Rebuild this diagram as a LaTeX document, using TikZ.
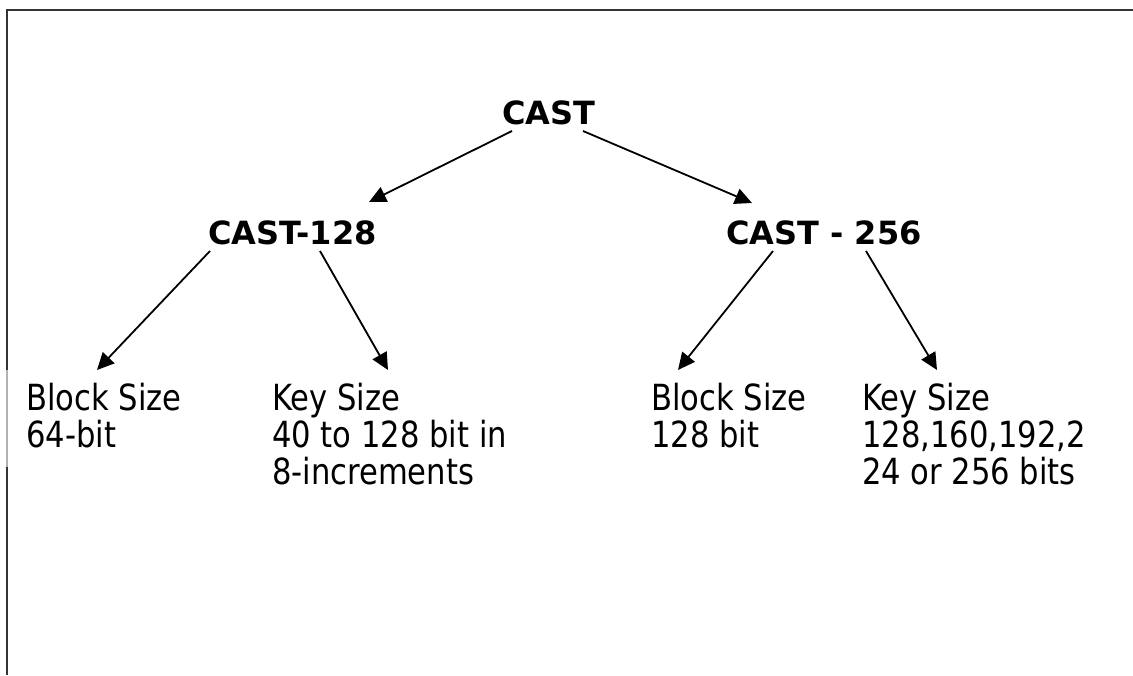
\documentclass[tikz,border=0pt]{standalone}
\usepackage{fontspec}
\newfontfamily\regfont[FakeStretch=0.85]{DejaVu Sans}
\newfontfamily\boldfont{DejaVu Sans}
\usetikzlibrary{arrows.meta,calc}
\begin{document}
\begin{tikzpicture}[x=1pt,y=-1pt,
  title/.style={anchor=base west,inner sep=0pt,font=\boldfont\bfseries\fontsize{32}{36}\selectfont},
  leaf/.style={anchor=north west,inner sep=0pt,align=left,font=\regfont\fontsize{36}{37}\selectfont},
  arr/.style={line width=1.8pt,-{Triangle[length=17pt,width=16pt]}},
  frame/.style={line width=2.2pt,draw=black!80}]
\useasboundingbox (0,0) rectangle (1133,675);
\draw[frame] (1133,10) -- (7,10) -- (7,370);
\draw[line width=2pt,draw=black!30] (7,370) -- (7,467);
\draw[frame] (7,467) -- (7,675);

\node[title] (cast) at (502,124) {CAST};
\node[title] (c128) at (208,244) {CAST-128};
\node[title] (c256) at (726,244) {CAST - 256};

\node[leaf] (blockL) at (26,383) {Block Size\\64-bit};
\node[leaf] (keyL) at (272,383) {Key Size\\40 to 128 bit in\\8-increments};
\node[leaf] (blockR) at (651,383) {Block Size\\128 bit};
\node[leaf] (keyR) at (862,383) {Key Size\\128,160,192,2\\24 or 256 bits};

\draw[arr] ($(cast.base west)+(10,7)$) -- ($(c128.base west)+(161,-42)$);
\draw[arr] ($(cast.base west)+(81,7)$) -- ($(c256.base west)+(26,-41)$);
\draw[arr] ($(c128.base west)+(2,7)$) -- ($(blockL.north west)+(71,-13)$);
\draw[arr] ($(c128.base west)+(112,7)$) -- ($(keyL.north west)+(116,-13)$);
\draw[arr] ($(c256.base west)+(47,7)$) -- ($(blockR.north west)+(27,-13)$);
\draw[arr] ($(c256.base west)+(140,7)$) -- ($(keyR.north west)+(75,-13)$);
\end{tikzpicture}
\end{document}
